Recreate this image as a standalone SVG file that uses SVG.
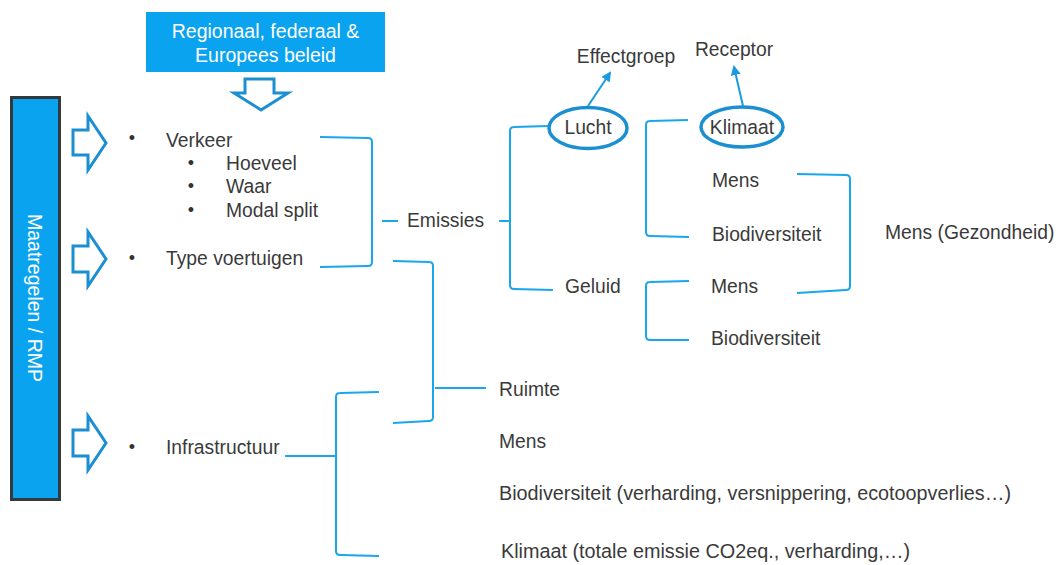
<svg xmlns="http://www.w3.org/2000/svg" width="1063" height="565" viewBox="0 0 1063 565">
<defs>
<style>
.t{font-family:"Liberation Sans",Arial,sans-serif;font-size:19.3px;fill:#3a3a3a}
.b{font-family:"Liberation Sans",Arial,sans-serif;font-size:18px;fill:#333333}
.w{font-family:"Liberation Sans",Arial,sans-serif;font-size:19.5px;fill:#ffffff}
.br{fill:none;stroke:#1aa6ea;stroke-width:2}
.oa{fill:#ffffff;stroke:#1b8fd2;stroke-width:3;stroke-linejoin:miter}
.el{fill:none;stroke:#1b8fd2;stroke-width:3.5}
.ar{stroke:#1a9be0;stroke-width:2;fill:none}
</style>
<marker id="ah" markerWidth="10" markerHeight="10" refX="8" refY="5" orient="auto" markerUnits="userSpaceOnUse">
<path d="M0,0 L10,5 L0,10 Z" fill="#1a9be0"/>
</marker>
</defs>
<rect width="1063" height="565" fill="#ffffff"/>

<g id="beleid">
<rect x="146" y="12" width="239" height="60" fill="#0aa3ef"/>
<text class="w" x="265.5" y="38" text-anchor="middle">Regionaal, federaal &amp;</text>
<text class="w" x="265.5" y="61.5" text-anchor="middle">Europees beleid</text>
</g>
<g id="down-arrow">
<path class="oa" d="M245,79 H274 V93 H288 L261,110 L234,93 H245 Z"/>
</g>
<g id="maatregelen">
<rect x="11.5" y="97.5" width="48" height="402" fill="#0aa3ef" stroke="#333a3f" stroke-width="3"/>
<text class="w" transform="translate(28,298) rotate(90)" x="0" y="0" text-anchor="middle">Maatregelen / RMP</text>
</g>
<g id="right-arrows">
<path class="oa" d="M73,130 H88 V116 L106,143 L88,170 V155 H73 Z"/>
<path class="oa" d="M73,246 H88 V232 L106,259 L88,286 V272 H73 Z"/>
<path class="oa" d="M73,430 H88 V416 L106,443 L88,470 V456 H73 Z"/>
</g>

<g id="verkeer">
<text class="b" x="132" y="144" text-anchor="middle">•</text>
<text class="t" x="166" y="147">Verkeer</text>
<text class="b" x="191" y="169" text-anchor="middle">•</text>
<text class="t" x="226" y="170">Hoeveel</text>
<text class="b" x="191" y="192" text-anchor="middle">•</text>
<text class="t" x="226" y="193">Waar</text>
<text class="b" x="191" y="216" text-anchor="middle">•</text>
<text class="t" x="226" y="217">Modal split</text>
</g>
<g id="type-voertuigen">
<text class="b" x="132" y="264" text-anchor="middle">•</text>
<text class="t" x="166" y="265">Type voertuigen</text>
</g>
<g id="infrastructuur">
<text class="b" x="132" y="453" text-anchor="middle">•</text>
<text class="t" x="166" y="454">Infrastructuur</text>
</g>

<g id="emissies"><text class="t" x="407" y="227">Emissies</text></g>
<g id="lucht">
<ellipse class="el" cx="588" cy="128" rx="39" ry="20.5"/>
<text class="t" x="588" y="134" text-anchor="middle">Lucht</text>
</g>
<g id="geluid"><text class="t" x="565" y="293">Geluid</text></g>
<g id="effectgroep"><text class="t" x="626" y="63" text-anchor="middle">Effectgroep</text></g>
<g id="receptor"><text class="t" x="734" y="56" text-anchor="middle">Receptor</text></g>
<g id="klimaat">
<ellipse class="el" cx="742" cy="127" rx="41" ry="20"/>
<text class="t" x="742" y="134" text-anchor="middle">Klimaat</text>
</g>
<g id="mens-lucht"><text class="t" x="712" y="187">Mens</text></g>
<g id="bio-lucht"><text class="t" x="712" y="241">Biodiversiteit</text></g>
<g id="mens-geluid"><text class="t" x="711" y="293">Mens</text></g>
<g id="bio-geluid"><text class="t" x="711" y="345">Biodiversiteit</text></g>
<g id="mens-gezondheid"><text class="t" x="885" y="239">Mens (Gezondheid)</text></g>
<g id="ruimte"><text class="t" x="499" y="396">Ruimte</text></g>
<g id="mens-ruimte"><text class="t" x="499" y="448">Mens</text></g>
<g id="bio-ruimte"><text class="t" x="499" y="500" textLength="512" lengthAdjust="spacingAndGlyphs">Biodiversiteit (verharding, versnippering, ecotoopverlies…)</text></g>
<g id="klimaat-ruimte"><text class="t" x="501" y="558" textLength="409" lengthAdjust="spacingAndGlyphs">Klimaat (totale emissie CO2eq., verharding,…)</text></g>

<g id="connectors">
<path class="br" d="M320,137 L368,138 Q372,138 372,142 L372,262 Q372,266 368,266 L320,267"/>
<path class="br" d="M382,221 H398"/>
<path class="br" d="M499,221 H510"/>
<path class="br" d="M548,126 L514,127 Q510,127 510,131 L510,285 Q510,289 514,289 L553,290"/>
<path class="br" d="M688,120 L650,121 Q646,121 646,125 L646,232 Q646,236 650,236 L689,237"/>
<path class="br" d="M689,281 L650,282 Q646,282 646,286 L646,336 Q646,340 650,340 L689,340"/>
<path class="br" d="M797,174 L846,175 Q850,175 850,179 L850,286 Q850,290 846,290 L797,293"/>
<path class="br" d="M393,261 L429,262 Q433,262 433,266 L433,417 Q433,421 429,421 L393,423"/>
<path class="br" d="M435,388 H486"/>
<path class="br" d="M285,456 H336"/>
<path class="br" d="M379,392 L340,393 Q336,393 336,397 L336,551 Q336,555 340,555 L379,556"/>
<path class="ar" d="M588,106 L610,73" marker-end="url(#ah)"/>
<path class="ar" d="M743,106 L734,67" marker-end="url(#ah)"/>
</g>
</svg>
